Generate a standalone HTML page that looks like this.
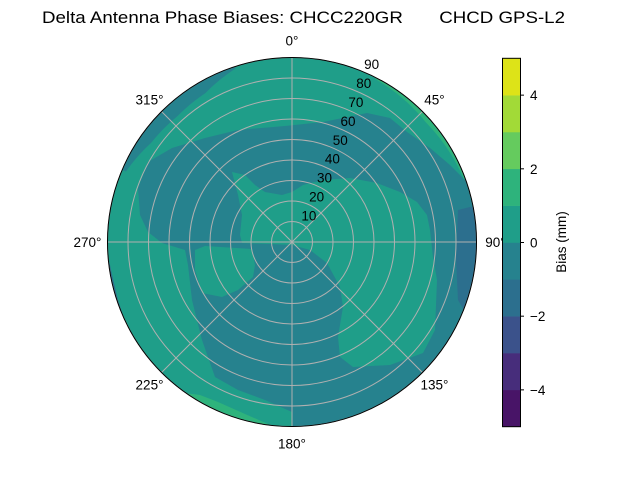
<!DOCTYPE html>
<html><head><meta charset="utf-8"><style>
html,body{margin:0;padding:0;background:#fff;}
svg{display:block;font-family:"Liberation Sans","DejaVu Sans",sans-serif;}
</style></head><body>
<svg id="chart" width="640" height="480" viewBox="0 0 640 480">
<text x="42" y="23" font-size="16.5" textLength="523" lengthAdjust="spacingAndGlyphs" xml:space="preserve">Delta Antenna Phase Biases: CHCC220GR       CHCD GPS-L2</text>
<defs><clipPath id="pc"><circle cx="292" cy="242" r="184.5"/></clipPath></defs>
<g id="plot" clip-path="url(#pc)"></g>
<g id="grid"></g>
<circle cx="292" cy="242" r="184.5" fill="none" stroke="#000" stroke-width="1"/>
<g id="labels" font-size="13.5"></g>
<g id="cbar"></g>
<text transform="translate(566,242) rotate(-90)" font-size="13.5" text-anchor="middle">Bias (mm)</text>
</svg>
<script>
// colorbar data
const levels = [-5,-4,-3,-2,-1,0,1,2,3,4,5];
const bandColors = ["#481467","#472d7b","#3b528b","#2c6f8e","#26828e","#1f9e89","#2eb37c","#65cb5e","#a2da37","#dde318"];
const cbarTicks = [-4,-2,0,2,4];
const cbarTickLabels = ["\u22124","\u22122","0","2","4"];
// polar axis data
const ringValues = [10,20,30,40,50,60,70,80,90];
const spokeAngles = [0,45,90,135,180,225,270,315];
const angleLabels = ["0°","45°","90°","135°","180°","225°","270°","315°"];
// contour regions: [colorIndex, points(x,y)]
const regionBase = 5;
const regionDark = [[138,188],[148,162],[172,148],[205,138],[238,130],[285,126],[323,122],[367,113],[390,118],[407,132],[430,148],[450,165],[467,182],[478,192],[500,192],[500,460],[292,460],[292,412],[265,400],[238,390],[215,377],[202,340],[192,300],[188,265],[185,250],[162,243],[148,232],[140,215]];
const regionCenter = [[232,172],[245,175],[255,185],[265,192],[282,195],[292,192],[303,185],[323,180],[350,178],[377,183],[400,192],[417,202],[427,215],[430,230],[433,257],[437,280],[435,330],[423,353],[390,365],[353,367],[340,357],[338,337],[343,307],[340,287],[327,263],[310,250],[292,245],[270,244],[242,243],[240,235],[242,215],[238,195]];
const regionLeftBlob = [[195,250],[205,246],[252,249],[255,265],[253,277],[238,290],[222,297],[202,293],[195,270]];
const regionRightBlue = [[458,210],[470,207],[482,205],[482,315],[465,312],[458,300],[456,260]];
const regionLeftBlue = [[107,250],[111,270],[118,300],[128,330],[132,336],[124,336],[112,305],[100,270]];
const regionGreenBL = [[185,393],[200,395],[218,402],[245,414],[268,424],[268,440],[175,405]];
const regions = [[4,regionDark],[5,regionCenter],[5,regionLeftBlob],[3,regionRightBlue],[3,regionLeftBlue],[6,regionGreenBL]];
// edge bands: angle ranges (deg clockwise from north) and inner radius (zenith units)
const darkEdgeAngles = [293,342];
const darkEdgeInner = [88,84,83,84,89];
const greenArcAngles = [27,70];

const NS="http://www.w3.org/2000/svg";
const cx=292, cy=242, R=184.5, rMax=90;
const rScale=v=>v/rMax*R;
const cbTop=58.3, cbBot=426.7, cbX=502.5, cbW=18;
const yScale=v=>cbBot-(v-levels[0])/(levels[levels.length-1]-levels[0])*(cbBot-cbTop);
function mk(tag,attrs,parent){const e=document.createElementNS(NS,tag);for(const k in attrs)e.setAttribute(k,attrs[k]);parent.appendChild(e);return e;}
function pol(a,r){const t=a*Math.PI/180;return [cx+r*Math.sin(t),cy-r*Math.cos(t)];}

const plot=document.getElementById('plot');
let base=mk('circle',{cx:cx,cy:cy,r:R,fill:bandColors[regionBase]},plot);


regions.forEach((rg,i)=>{
  const p=mk('polygon',{points:rg[1].map(q=>q.join(',')).join(' '),fill:bandColors[rg[0]]},plot);
  
  
});
(function(){
  const a0=darkEdgeAngles[0], a1=darkEdgeAngles[1], n=darkEdgeInner.length;
  let pts=[];
  for(let a=a0;a<=a1;a+=1){pts.push(pol(a,R+3));}
  for(let a=a1;a>=a0;a-=1){
    const f=(a-a0)/(a1-a0)*(n-1), k=Math.min(n-2,Math.floor(f)), u=f-k;
    const v=darkEdgeInner[k]*(1-u)+darkEdgeInner[k+1]*u;
    pts.push(pol(a,rScale(v)));
  }
  const p=mk('polygon',{points:pts.map(q=>q.join(',')).join(' '),fill:bandColors[4]},plot);
  
  
})();
(function(){
  const a0=greenArcAngles[0], a1=greenArcAngles[1], mid=(a0+a1)/2;
  let pts=[];
  for(let a=a0;a<=a1;a+=1){pts.push(pol(a,R+2));}
  for(let a=a1;a>=a0;a-=1){const w=1.5+3.5*Math.max(0,1-Math.abs(a-mid)/((a1-a0)/2));pts.push(pol(a,R-w));}
  const p=mk('polygon',{points:pts.map(q=>q.join(',')).join(' '),fill:bandColors[6]},plot);
  
  
})();

const grid=document.getElementById('grid');
ringValues.forEach(v=>{
  const c=mk('circle',{cx:cx,cy:cy,r:rScale(v),fill:'none',stroke:'#b0b0b0','stroke-width':1},grid);
  
  
});
spokeAngles.forEach(a=>{
  const e=pol(a,R);
  const l=mk('line',{x1:cx,y1:cy,x2:e[0],y2:e[1],stroke:'#b0b0b0','stroke-width':1},grid);
  
  
});

const labels=document.getElementById('labels');
spokeAngles.forEach((a,i)=>{
  const p=pol(a,R+17);
  const tx=mk('text',{x:p[0]+(a==90?2:a==270?-3:0),y:p[1]+5,'text-anchor':'middle'},labels);
  tx.textContent=angleLabels[i];
  
  
});
ringValues.forEach(v=>{
  const p=pol(22.5,rScale(v));
  const tx=mk('text',{x:p[0]+9,y:p[1]-2.5,'text-anchor':'middle'},labels);
  tx.textContent=String(v);
  
  
});

const cbar=document.getElementById('cbar');
bandColors.forEach((c,i)=>{
  const y1=yScale(levels[i+1]), y0=yScale(levels[i]);
  const r=mk('rect',{x:cbX,y:y1,width:cbW,height:y0-y1+0.3,fill:c},cbar);
  
  
});
let fr=mk('rect',{x:cbX,y:cbTop,width:cbW,height:cbBot-cbTop,fill:'none',stroke:'#000','stroke-width':1},cbar);


cbarTicks.forEach((v,i)=>{
  const y=yScale(v);
  const l=mk('line',{x1:cbX+cbW,y1:y,x2:cbX+cbW+3.5,y2:y,stroke:'#000','stroke-width':1},cbar);
  
  
  const tx=mk('text',{x:530,y:y+5,'font-size':13.5},cbar);
  tx.textContent=cbarTickLabels[i];
  
  
});
</script>
</body></html>
